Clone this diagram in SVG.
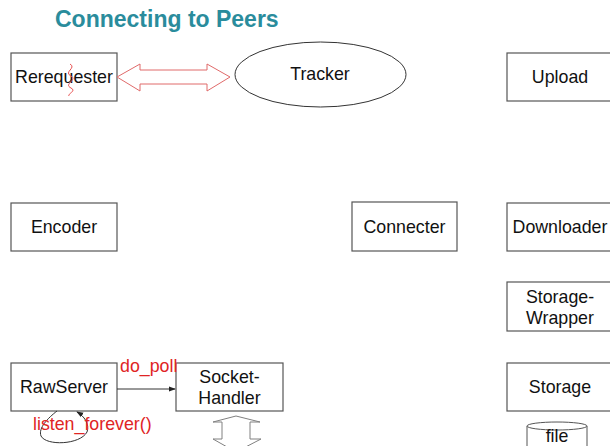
<svg xmlns="http://www.w3.org/2000/svg" width="610" height="446" viewBox="0 0 610 446">
  <defs>
    <style>
      .box { fill: #ffffff; stroke: #555555; stroke-width: 1.2; }
      .lbl { font-family: "Liberation Sans", Arial, sans-serif; font-size: 17.8px; fill: #111111; text-anchor: middle; }
      .call { font-family: "Liberation Sans", Arial, sans-serif; font-size: 17.8px; fill: #e02424; }
      .title { font-family: "Liberation Sans", Arial, sans-serif; font-size: 23px; font-weight: bold; fill: #2a8c9c; }
      .link { fill: none; stroke: #333333; stroke-width: 1; }
    </style>
    <marker id="tip" viewBox="0 0 8 8" refX="7" refY="4" markerWidth="7" markerHeight="7" orient="auto" markerUnits="userSpaceOnUse">
      <path d="M0,1 L8,4 L0,7 Z" fill="#222222"/>
    </marker>
  </defs>

  <rect width="610" height="446" fill="#ffffff"/>

  <text class="title" x="55" y="27">Connecting to Peers</text>

  <g id="rerequester">
    <rect class="box" x="11" y="53" width="106" height="48"/>
    <text class="lbl" x="64" y="83">Rerequester</text>
    <path d="M70,64 C77,68 63,72 71,76 C78,80 63,84 71,88 C77,91 67,94 69,96" fill="none" stroke="#e85050" stroke-width="1"/>
  </g>

  <g id="tracker">
    <ellipse cx="320.5" cy="74.5" rx="85.5" ry="32.5" fill="#ffffff" stroke="#333333" stroke-width="1"/>
    <text class="lbl" x="320" y="80">Tracker</text>
  </g>

  <g id="upload">
    <rect class="box" x="507" y="53" width="106" height="48"/>
    <text class="lbl" x="560" y="83">Upload</text>
  </g>

  <g id="encoder">
    <rect class="box" x="11" y="203" width="106" height="48"/>
    <text class="lbl" x="64" y="233">Encoder</text>
  </g>

  <g id="connecter">
    <rect class="box" x="352" y="202" width="105" height="49"/>
    <text class="lbl" x="404.5" y="233">Connecter</text>
  </g>

  <g id="downloader">
    <rect class="box" x="507" y="203" width="106" height="48"/>
    <text class="lbl" x="560" y="233">Downloader</text>
  </g>

  <g id="storage-wrapper">
    <rect class="box" x="507" y="282" width="106" height="49"/>
    <text class="lbl" x="560" y="303">Storage-</text>
    <text class="lbl" x="560" y="324">Wrapper</text>
  </g>

  <g id="rawserver">
    <rect class="box" x="11" y="363" width="106" height="48"/>
    <text class="lbl" x="64" y="393">RawServer</text>
  </g>

  <g id="socket-handler">
    <rect class="box" x="176" y="363" width="107" height="48"/>
    <text class="lbl" x="229.5" y="383">Socket-</text>
    <text class="lbl" x="229.5" y="404">Handler</text>
  </g>

  <g id="storage">
    <rect class="box" x="507" y="363" width="106" height="48"/>
    <text class="lbl" x="560" y="393">Storage</text>
  </g>

  <g id="file">
    <path d="M527,426 L527,450 L587,450 L587,426" fill="#ffffff" stroke="#555555" stroke-width="1"/>
    <ellipse cx="557" cy="426" rx="30" ry="4" fill="#ffffff" stroke="#555555" stroke-width="1"/>
    <text class="lbl" x="557" y="442">file</text>
  </g>

  <g id="connectors">
    <!-- Rerequester <-> Tracker -->
    <path d="M117,77 L140,64 L140,70 L207,70 L207,64 L230,77 L207,91 L207,84 L140,84 L140,91 Z" fill="#ffffff" stroke="#e06a6a" stroke-width="1"/>
    <!-- RawServer -> SocketHandler -->
    <line class="link" x1="117" y1="389" x2="175" y2="389" marker-end="url(#tip)"/>
    <text class="call" x="120" y="372">do_poll</text>
    <!-- RawServer event loop -->
    <path class="link" d="M57,411 C48,418 38,428 41,436 C46,446 80,445 87,432 C90,424 84,416 77,412" marker-end="url(#tip)"/>
    <text class="call" x="33" y="430">listen_forever()</text>
    <!-- SocketHandler up/down link -->
    <path d="M236,416 L260,422 L250,422 L250,439 L261,439 L236,452 L213,439 L222,439 L222,422 L213,422 Z" fill="#ffffff" stroke="#808080" stroke-width="1"/>
  </g>
</svg>
